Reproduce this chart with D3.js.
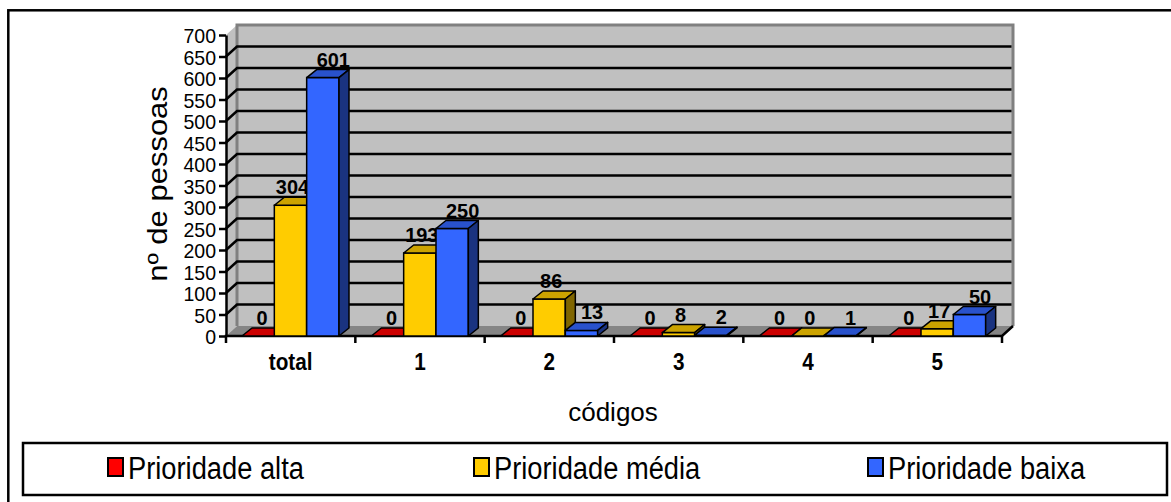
<!DOCTYPE html>
<html>
<head>
<meta charset="utf-8">
<script src="https://cdn.jsdelivr.net/npm/d3@7"></script>
<style>
body { margin: 0; background: #fff; }
svg { display: block; }
text { font-family: "Liberation Sans", Arial, sans-serif; fill: #000; }
</style>
</head>
<body>
<svg id="chart" width="1171" height="502"></svg>
<script>
// data
var categories = ["total", "1", "2", "3", "4", "5"];
var seriesNames = ["Prioridade alta", "Prioridade média", "Prioridade baixa"];
var alta = [0, 0, 0, 0, 0, 0];
var media = [304, 193, 86, 8, 0, 17];
var baixa = [601, 250, 13, 2, 1, 50];
var yTicks = [0, 50, 100, 150, 200, 250, 300, 350, 400, 450, 500, 550, 600, 650, 700];
var gridTicks = [50, 100, 150, 200, 250, 300, 350, 400, 450, 500, 550, 600, 650];

var values = [alta, media, baixa];
// face colours, plus how far right of the bar centre the value label sits
var faces = [
    {front: "#ff0000", top: "#cc0000", side: "#800000", labelShift: 4},
    {front: "#ffcc00", top: "#cca300", side: "#806600", labelShift: 2},
    {front: "#3366ff", top: "#2952cc", side: "#1a3380", labelShift: 10.5}
];
var FONT = "'Liberation Sans', Arial, sans-serif";

var svg = d3.select("#chart");

// depth offsets of the 3d box
var wdx = 11, wdy = -10;   // walls
var bdx = 10, bdy = -8;    // bars

var x = d3.scaleBand().domain(categories).range([226, 1002]);
var xs = d3.scaleBand().domain(seriesNames).range([16, 113]);
var y = d3.scaleLinear().domain([0, 700]).range([336, 35]);

// the source renders its text a bit narrow
function squeeze(sel, f) {
    sel.each(function () {
        var L = this.getComputedTextLength();
        d3.select(this).attr("textLength", L * f).attr("lengthAdjust", "spacingAndGlyphs");
    });
}

// outer frame
svg.append("rect")
    .attr("x", 8.3).attr("y", 10.3)
    .attr("width", 1180).attr("height", 510)
    .attr("fill", "none").attr("stroke", "#000").attr("stroke-width", 2.5);

var x0 = x.range()[0], x1 = x.range()[1];
var yTop = y(700), yBot = y(0);

// walls
svg.append("polygon")
    .attr("points", [[x0, yBot], [x0 + wdx, yBot + wdy], [x0 + wdx, yTop + wdy], [x0, yTop]].join(" "))
    .attr("fill", "#c0c0c0");
svg.append("rect")
    .attr("x", x0 + wdx).attr("y", yTop + wdy)
    .attr("width", x1 - x0).attr("height", yBot - yTop)
    .attr("fill", "#c0c0c0");
svg.append("polygon")
    .attr("points", [[x0, yBot], [x1, yBot], [x1 + wdx, yBot + wdy], [x0 + wdx, yBot + wdy]].join(" "))
    .attr("fill", "#858585");
svg.append("path")
    .attr("d", "M" + (x0 + wdx) + "," + (yBot + wdy) + "V" + (yTop + wdy) + "H" + (x1 + wdx) + "V" + (yBot + wdy))
    .attr("fill", "none").attr("stroke", "#808080").attr("stroke-width", 3);

// gridlines on back wall
svg.append("g").selectAll("path")
    .data(gridTicks)
    .join("path")
    .attr("d", function (d) {
        return "M" + x0 + "," + y(d) + "L" + (x0 + wdx) + "," + (y(d) + wdy) + "H" + (x1 + wdx - 1.5);
    })
    .attr("fill", "none").attr("stroke", "#000").attr("stroke-width", 2.5);

// y axis
var yAxis = svg.append("g")
    .attr("transform", "translate(" + x0 + ",0)")
    .call(d3.axisLeft(y).tickValues(yTicks).tickSize(7).tickSizeOuter(0).tickPadding(3));
yAxis.select(".domain").attr("stroke-width", 2.5);
yAxis.selectAll(".tick line").attr("stroke-width", 2.5);
yAxis.selectAll("text")
    .attr("font-size", 21).attr("font-family", FONT)
    .attr("dy", "0.38em");
squeeze(yAxis.selectAll("text"), 0.93);

// x axis base line with category boundary ticks
svg.append("path")
    .attr("d", "M" + x0 + "," + (yBot + 7) + "V" + yBot + "H" + x1 + "L" + (x1 + wdx) + "," + (yBot + wdy))
    .attr("fill", "none").attr("stroke", "#000").attr("stroke-width", 2.5);
svg.append("g").selectAll("line")
    .data(categories)
    .join("line")
    .attr("x1", function (d) { return x(d) + x.bandwidth(); })
    .attr("x2", function (d) { return x(d) + x.bandwidth(); })
    .attr("y1", yBot).attr("y2", yBot + 7)
    .attr("stroke", "#000").attr("stroke-width", 2.5);

var xAxis = svg.append("g")
    .attr("transform", "translate(0," + yBot + ")")
    .call(d3.axisBottom(x).tickSize(0).tickPadding(0));
xAxis.select(".domain").remove();
xAxis.selectAll("text")
    .attr("dy", null).attr("y", 34)
    .attr("font-size", 23).attr("font-weight", "bold")
    .attr("font-family", FONT);
squeeze(xAxis.selectAll("text"), 0.9);

// bars, one series after the other so later bars cover earlier labels
var plot = svg.append("g");
seriesNames.forEach(function (name, s) {
    var g = plot.append("g");
    var c = faces[s];
    categories.forEach(function (cat, i) {
        var v = values[s][i];
        var bx = x(cat) + xs(name), w = xs.bandwidth();
        var yt = y(v), yb = y(0);
        g.append("rect")
            .attr("x", bx).attr("y", yt).attr("width", w).attr("height", yb - yt)
            .attr("fill", c.front).attr("stroke", "#000").attr("stroke-width", 1.5);
        g.append("polygon")
            .attr("points", [[bx, yt], [bx + bdx, yt + bdy], [bx + w + bdx, yt + bdy], [bx + w, yt]].join(" "))
            .attr("fill", c.top).attr("stroke", "#000").attr("stroke-width", 1.5).attr("stroke-linejoin", "round");
        g.append("polygon")
            .attr("points", [[bx + w, yt], [bx + w + bdx, yt + bdy], [bx + w + bdx, yb + bdy], [bx + w, yb]].join(" "))
            .attr("fill", c.side).attr("stroke", "#000").attr("stroke-width", 1.5).attr("stroke-linejoin", "round");
        var t = g.append("text")
            .attr("x", bx + w / 2 + c.labelShift).attr("y", yt - 11)
            .attr("text-anchor", "middle")
            .attr("font-size", 21).attr("font-weight", "bold")
            .text(v);
        squeeze(t, 0.95);
    });
});

// axis titles
svg.append("text")
    .attr("transform", "translate(167,184) rotate(-90) scale(1,0.9)")
    .attr("text-anchor", "middle")
    .attr("font-size", 31)
    .text("nº de pessoas");
svg.append("text")
    .attr("x", 613).attr("y", 421)
    .attr("text-anchor", "middle")
    .attr("font-size", 26)
    .text("códigos");

// legend
var legendX = [108, 474, 868];
svg.append("rect")
    .attr("x", 23).attr("y", 443).attr("width", 1144).attr("height", 52)
    .attr("fill", "#fff").attr("stroke", "#000").attr("stroke-width", 2.5);
var leg = svg.append("g").selectAll("g")
    .data(seriesNames)
    .join("g")
    .attr("transform", function (d, i) { return "translate(" + legendX[i] + ",0)"; });
leg.append("rect")
    .attr("x", 0).attr("y", 458).attr("width", 15).attr("height", 18)
    .attr("fill", function (d, i) { return faces[i].front; })
    .attr("stroke", "#000").attr("stroke-width", 2);
var legText = leg.append("text")
    .attr("x", 20).attr("y", 479)
    .attr("font-size", 31)
    .text(function (d) { return d; });
squeeze(legText, 0.88);
</script>
</body>
</html>
